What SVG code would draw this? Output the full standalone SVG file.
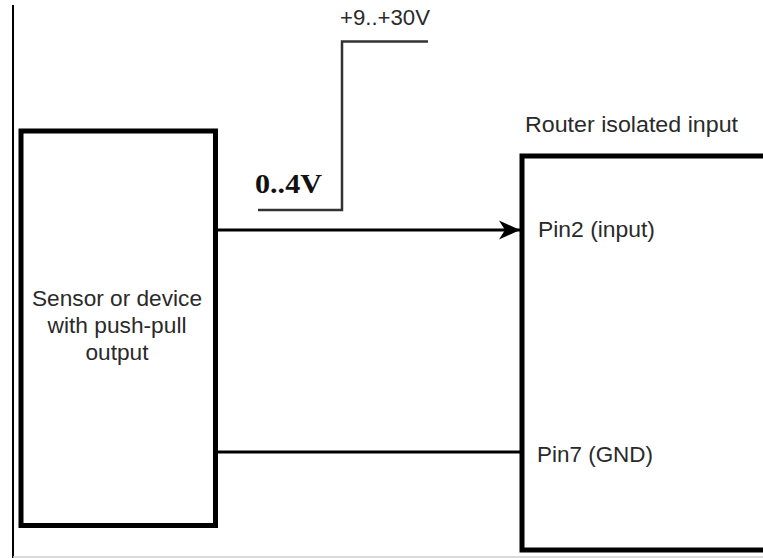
<svg xmlns="http://www.w3.org/2000/svg" width="763" height="558" viewBox="0 0 763 558">
  <defs>
    <style>
      .box { fill: #ffffff; stroke: #000000; stroke-width: 5; }
      .wire { fill: none; stroke: #000000; stroke-width: 3; }
      .step { fill: none; stroke: #333333; stroke-width: 2.5; }
      .lbl { font-family: "Liberation Sans", Arial, Helvetica, sans-serif; font-size: 22px; fill: #2a2a2a; }
      .big { font-family: "Liberation Serif", "Times New Roman", serif; font-weight: bold; font-size: 27px; fill: #111111; }
    </style>
    <marker id="arrow" markerWidth="24" markerHeight="22" refX="21" refY="11" orient="auto" markerUnits="userSpaceOnUse">
      <path d="M0,1.5 L21,11 L0,20.5 L6,11 Z" fill="#000000"/>
    </marker>
  </defs>
  <rect x="0" y="0" width="763" height="558" fill="#ffffff"/>
  <g id="frame">
    <line x1="13" y1="5" x2="13" y2="558" stroke="#000000" stroke-width="2"/>
    <line x1="13" y1="557" x2="763" y2="557" stroke="#cccccc" stroke-width="1.5"/>
  </g>
  <g id="sensor">
    <rect class="box" x="21" y="131" width="194.5" height="394.5"/>
    <text class="lbl" x="117" y="306" text-anchor="middle" textLength="170" lengthAdjust="spacingAndGlyphs">Sensor or device</text>
    <text class="lbl" x="117" y="333" text-anchor="middle" textLength="139" lengthAdjust="spacingAndGlyphs">with push-pull</text>
    <text class="lbl" x="117" y="360" text-anchor="middle" textLength="63" lengthAdjust="spacingAndGlyphs">output</text>
  </g>
  <g id="router">
    <rect class="box" x="522" y="156" width="260" height="394"/>
    <text class="lbl" x="525" y="132" textLength="213" lengthAdjust="spacingAndGlyphs">Router isolated input</text>
    <text class="lbl" x="538" y="237" textLength="117" lengthAdjust="spacingAndGlyphs">Pin2 (input)</text>
    <text class="lbl" x="537" y="462" textLength="116" lengthAdjust="spacingAndGlyphs">Pin7 (GND)</text>
  </g>
  <g id="signal">
    <polyline class="step" points="258,210 342,210 342,41.5 428,41.5"/>
    <text class="big" x="255" y="193" textLength="67" lengthAdjust="spacingAndGlyphs">0..4V</text>
    <text class="lbl" x="340" y="25" font-size="18" textLength="90" lengthAdjust="spacingAndGlyphs">+9..+30V</text>
  </g>
  <g id="connectors">
    <line class="wire" x1="217" y1="230" x2="520" y2="230" marker-end="url(#arrow)"/>
    <line class="wire" x1="217" y1="452" x2="520" y2="452"/>
  </g>
</svg>
